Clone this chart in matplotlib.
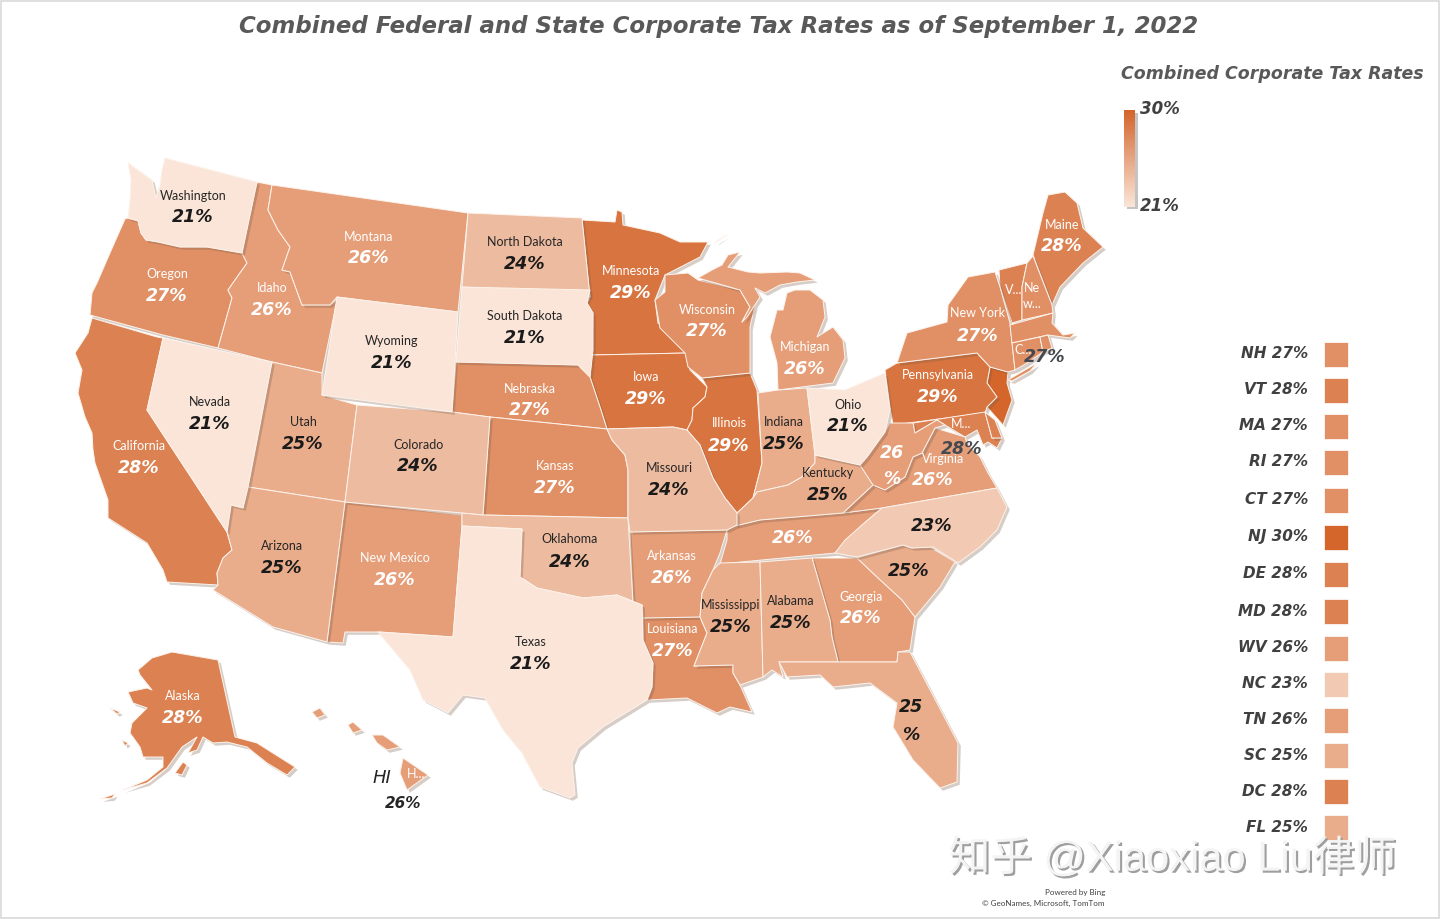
import numpy as np
import matplotlib
matplotlib.use("Agg")
import matplotlib.pyplot as plt
import matplotlib.patheffects as pe
from matplotlib.colors import LinearSegmentedColormap, Normalize
from matplotlib.patches import Polygon, Rectangle

# combined corporate tax rate per state (percent)
rates = {
    "WA": 21, "OR": 27, "CA": 28, "NV": 21, "ID": 26, "MT": 26, "WY": 21, "UT": 25, "AZ": 25,
    "CO": 24, "NM": 26, "ND": 24, "SD": 21, "NE": 27, "KS": 27, "OK": 24, "TX": 21, "MN": 29,
    "IA": 29, "MO": 24, "AR": 26, "LA": 27, "WI": 27, "IL": 29, "MI": 26, "IN": 25, "OH": 21,
    "KY": 25, "TN": 26, "MS": 25, "AL": 25, "GA": 26, "FL": 25, "SC": 25, "NC": 23, "VA": 26,
    "WV": 26, "PA": 29, "NY": 27, "ME": 28, "VT": 28, "NH": 27, "MA": 27, "RI": 27, "CT": 27,
    "NJ": 30, "DE": 28, "MD": 28, "AK": 28, "HI": 26,
}

# right hand list of the small states
side_codes = ["NH", "VT", "MA", "RI", "CT", "NJ", "DE", "MD", "WV", "NC", "TN", "SC", "DC", "FL"]
side_rates = [27, 28, 27, 27, 27, 30, 28, 28, 26, 23, 26, 25, 28, 25]

# state outlines, in picture pixels
outlines = {
    "WA": [[(128,163),(131,180),(130,200),(128,218),(138,221),(141,233),(146,240),(158,242),(180,247),(207,247),(242,253),(257,182),(165,158),(162,170),(160,185),(156,198),(152,180)]],
    "OR": [[(125,219),(128,218),(138,221),(141,233),(146,240),(158,242),(180,247),(207,247),(242,253),(247,263),(228,290),(232,298),(218,348),(163,335),(90,315),(92,293),(97,283),(110,253)]],
    "CA": [[(92,318),(157,337),(163,338),(147,410),(227,532),(232,550),(223,558),(217,573),(218,585),(167,582),(163,570),(147,543),(108,518),(108,500),(95,463),(93,450),(92,433),(85,417),(78,393),(82,370),(75,353),(88,333)]],
    "NV": [[(163,338),(272,362),(248,487),(243,508),(231,505),(227,532),(147,410)]],
    "ID": [[(257,182),(272,185),(268,210),(278,230),(290,247),(282,270),(290,272),(302,305),(330,305),(337,300),(322,373),(272,362),(218,348),(232,298),(228,290),(247,263),(242,253)]],
    "MT": [[(272,185),(468,213),(458,312),(337,297),(330,305),(302,305),(290,272),(282,270),(290,247),(278,230),(268,210)]],
    "WY": [[(337,297),(458,312),(452,412),(322,395)]],
    "UT": [[(272,362),(322,373),(322,395),(357,405),(345,502),(248,487)]],
    "AZ": [[(248,487),(345,502),(327,642),(273,627),(213,590),(218,585),(217,573),(223,558),(232,550),(227,532),(231,505),(243,508)]],
    "CO": [[(357,405),(452,412),(490,417),(483,515),(345,502)]],
    "NM": [[(345,502),(462,515),(462,526),(453,637),(380,632),(345,632),(343,643),(327,642)]],
    "ND": [[(468,213),(582,218),(590,297),(462,287)]],
    "SD": [[(462,287),(590,290),(587,303),(593,313),(593,350),(590,377),(578,365),(456,362)]],
    "NE": [[(456,362),(578,365),(590,377),(600,407),(607,429),(490,417),(452,412)]],
    "KS": [[(490,417),(607,429),(612,440),(625,455),(628,470),(628,518),(483,515)]],
    "OK": [[(462,513),(483,515),(628,518),(633,603),(642,605),(617,595),(583,598),(560,593),(537,588),(520,577),(522,529),(462,526)]],
    "TX": [[(462,526),(522,529),(520,577),(537,588),(560,593),(583,598),(617,595),(642,605),(643,640),(653,663),(652,687),(647,700),(603,727),(578,748),(572,763),(575,795),(570,798),(540,787),(522,753),(503,730),(485,698),(463,695),(448,713),(423,700),(410,670),(378,632),(453,637)]],
    "MN": [[(582,220),(615,222),(617,210),(622,212),(623,225),(660,233),(680,242),(708,242),(700,257),(665,275),(655,300),(658,323),(683,343),(687,353),(592,355),(593,313),(587,303),(590,297)]],
    "IA": [[(592,355),(687,353),(690,370),(707,387),(705,397),(693,408),(692,420),(687,430),(673,427),(607,429),(600,407),(590,377)]],
    "MO": [[(607,429),(673,427),(687,430),(700,445),(713,478),(725,498),(737,513),(737,525),(727,530),(630,532),(628,518),(628,470),(625,455),(612,440)]],
    "AR": [[(630,532),(727,530),(720,553),(713,570),(702,593),(700,617),(643,618),(642,605),(633,603)]],
    "LA": [[(643,618),(700,617),(707,633),(694,666),(733,665),(733,673),(740,685),(752,712),(730,707),(717,713),(687,698),(647,700),(652,687),(653,663),(643,640)]],
    "WI": [[(665,275),(688,273),(698,280),(740,290),(750,307),(742,322),(755,305),(750,327),(750,373),(702,378),(688,367),(685,353),(660,328),(655,300),(665,292)]],
    "IL": [[(702,378),(750,373),(757,390),(762,463),(753,498),(737,513),(725,498),(713,478),(700,445),(687,430),(692,420),(693,408),(705,397),(707,387)]],
    "MI": [[(698,278),(712,270),(722,265),(728,255),(740,252),(728,267),(748,272),(760,273),(787,272),(800,273),(815,280),(797,282),(780,285),(765,293),(755,288),(760,297),(747,317),(742,322),(750,307),(740,290)],
           [(795,290),(810,290),(823,300),(825,317),(817,337),(833,327),(843,340),(845,358),(833,383),(778,390),(777,363),(770,337),(777,310),(783,310),(787,293)],
           [(715,243),(727,235),(717,241)]],
    "IN": [[(758,393),(778,390),(807,388),(815,455),(815,463),(802,477),(788,485),(757,492),(753,498),(762,463)]],
    "OH": [[(807,388),(845,390),(885,373),(890,410),(885,432),(867,457),(860,465),(837,460),(815,455)]],
    "KY": [[(815,455),(837,460),(860,465),(873,485),(843,513),(760,520),(735,526),(737,513),(753,498),(757,492),(788,485),(802,477),(815,463)]],
    "TN": [[(735,526),(760,520),(843,513),(882,508),(862,525),(835,553),(720,564),(727,540),(727,530)]],
    "MS": [[(720,563),(760,562),(763,677),(740,685),(733,673),(733,665),(694,666),(707,633),(700,617),(702,593),(713,570)]],
    "AL": [[(760,562),(812,558),(830,620),(832,637),(838,662),(779,662),(783,677),(772,670),(763,677)]],
    "GA": [[(812,558),(857,558),(877,577),(902,600),(915,617),(910,650),(898,652),(897,662),(838,662),(832,637),(830,620)]],
    "FL": [[(779,662),(838,662),(897,662),(898,652),(910,652),(937,703),(958,743),(957,782),(940,788),(913,760),(893,727),(897,703),(870,683),(833,687),(820,675),(787,677)]],
    "SC": [[(857,558),(903,545),(910,548),(930,547),(955,562),(940,587),(915,617),(902,600),(877,577)]],
    "NC": [[(882,508),(997,488),(1007,507),(997,530),(980,547),(958,563),(933,547),(912,548),(903,545),(857,557),(835,553),(845,540),(862,525)]],
    "VA": [[(843,513),(873,485),(885,490),(905,477),(913,457),(922,453),(935,428),(965,437),(967,443),(980,457),(988,473),(997,488),(882,508)]],
    "WV": [[(860,465),(867,457),(885,432),(890,423),(913,423),(915,433),(937,420),(945,425),(935,428),(922,453),(913,457),(905,477),(885,490),(873,485)]],
    "MD": [[(913,423),(985,412),(992,438),(1002,438),(997,448),(988,442),(983,445),(977,430),(965,437),(945,425),(937,420),(915,433)]],
    "DE": [[(985,412),(995,420),(1002,438),(992,438)]],
    "PA": [[(885,370),(897,363),(977,353),(990,367),(987,383),(997,397),(987,407),(985,413),(893,425),(890,407)]],
    "NJ": [[(990,367),(1008,372),(1007,383),(1012,400),(1003,425),(987,407),(997,397),(987,383)]],
    "NY": [[(897,363),(907,333),(947,322),(948,305),(968,277),(995,272),(1000,287),(1010,323),(1015,370),(1008,372),(990,367),(977,353)],
           [(1008,380),(1037,363),(1030,371),(1012,381)]],
    "VT": [[(999,270),(1027,263),(1022,287),(1022,320),(1012,323),(1000,287)]],
    "NH": [[(1027,263),(1033,256),(1052,305),(1053,313),(1022,320),(1022,287)]],
    "ME": [[(1033,255),(1043,213),(1048,195),(1065,192),(1077,203),(1083,228),(1103,247),(1083,263),(1060,287),(1052,305)]],
    "MA": [[(1010,325),(1053,313),(1052,323),(1063,335),(1075,333),(1070,338),(1048,335),(1012,343)]],
    "CT": [[(1012,343),(1040,337),(1043,352),(1027,363),(1015,370)]],
    "RI": [[(1040,337),(1048,335),(1052,348),(1043,352)]],
    "AK": [[(138,670),(152,658),(172,652),(218,660),(235,737),(257,743),(295,767),(287,775),(267,763),(247,747),(227,742),(213,743),(203,737),(197,750),(188,753),(197,737),(182,747),(167,768),(147,783),(123,790),(147,780),(163,767),(163,757),(143,757),(140,747),(130,733),(132,723),(147,708),(133,703),(128,692),(147,688),(152,690),(140,675)],
           [(175,773),(183,762),(187,765),(182,775)],
           [(100,799),(115,794),(112,798)],
           [(110,708),(120,712),(117,714)],
           [(122,740),(128,743),(125,746)]],
    "HI": [[(312,712),(320,708),(325,715),(317,718)],
           [(348,725),(353,722),(362,730),(353,733)],
           [(372,735),(383,735),(400,747),(387,750),(377,743)],
           [(403,758),(428,775),(407,790),(400,773)]],
}

# name label, rate label: (text, x, y, white?)
names = [
    ("Washington",193,196,0),("Oregon",167,274,1),("California",139,446,1),("Nevada",210,402,0),("Idaho",272,288,1),
    ("Montana",369,237,1),("Wyoming",392,341,0),("Utah",303,422,0),("Arizona",282,546,0),("Colorado",418,445,0),
    ("New Mexico",395,558,1),("North Dakota",525,242,0),("South Dakota",525,316,0),("Nebraska",530,389,1),
    ("Kansas",555,466,1),("Oklahoma",570,539,0),("Texas",531,642,0),("Minnesota",631,271,1),("Iowa",646,377,1),
    ("Missouri",669,468,0),("Arkansas",672,556,1),("Louisiana",673,629,1),("Wisconsin",707,310,1),("Illinois",729,423,1),
    ("Michigan",805,347,1),("Indiana",784,422,0),("Ohio",848,405,0),("Kentucky",828,473,0),("Mississippi",731,605,0),
    ("Alabama",791,601,0),("Georgia",861,597,1),("Virginia",943,459,1),("Pennsylvania",938,375,1),("New York",978,313,1),
    ("Maine",1062,225,1),("V...",1014,290,1),("Ne",1032,288,1),("w...",1032,304,1),("M...",961,424,1),("C...",1023,350,1),
    ("Alaska",183,696,1),("H...",416,774,1),
]
rate_labels = [
    ("21%",193,217,0),("27%",167,296,1),("28%",139,468,1),("21%",210,424,0),("26%",272,310,1),("26%",369,258,1),
    ("21%",392,363,0),("25%",303,444,0),("25%",282,568,0),("24%",418,466,0),("26%",395,580,1),("24%",525,264,0),
    ("21%",525,338,0),("27%",530,410,1),("27%",555,488,1),("24%",570,562,0),("21%",531,664,0),("29%",631,293,1),
    ("29%",646,399,1),("24%",669,490,0),("26%",672,578,1),("27%",673,651,1),("27%",707,331,1),("29%",729,446,1),
    ("26%",805,369,1),("25%",784,444,0),("21%",848,426,0),("25%",828,495,0),("26%",793,538,1),("25%",731,627,0),
    ("25%",791,623,0),("26%",861,618,1),("25",911,707,0),("%",911,735,0),("25%",909,571,0),("23%",932,526,0),
    ("26%",933,480,1),("26",892,453,1),("%",892,479,1),("29%",938,397,1),("27%",978,336,1),("28%",1062,246,1),
    ("28%",183,718,1),
]

cmap = LinearSegmentedColormap.from_list("tax", ["#FAE5D8", "#D4662C"])
norm = Normalize(21, 30)

fig = plt.figure(figsize=(14.4, 9.19), dpi=100)
ax = fig.add_axes([0, 0, 1, 1])
ax.set_xlim(0, 1440)
ax.set_ylim(919, 0)
ax.axis("off")

script = dict(family="DejaVu Sans", style="oblique", weight="bold")
shadow = [pe.SimplePatchShadow(offset=(2, -2), shadow_rgbFace="#7a5a48", alpha=0.3), pe.Normal()]

# lighter states sit on top, their shadow falls on the darker neighbours
for code in sorted(outlines, key=lambda c: -rates[c]):
    for part in outlines[code]:
        ax.add_patch(Polygon(part, closed=True, facecolor=cmap(norm(rates[code])), edgecolor="#FDF3EC",
                             linewidth=0.7, joinstyle="round", path_effects=shadow))

for txt, x, y, white in names:
    ax.text(x, y, txt, ha="center", va="center", family="Lato", fontsize=9,
            color="white" if white else "#262626")
for txt, x, y, white in rate_labels:
    ax.text(x, y, txt, ha="center", va="center", fontsize=12.5, color="white" if white else "#1a1a1a", **script)

ax.text(962, 449, "28%", ha="center", va="center", fontsize=12.5, color="#44494f", **script)
ax.text(1045, 357, "27%", ha="center", va="center", fontsize=12.5, color="#44494f", **script)
ax.text(382, 778, "HI", ha="center", va="center", fontsize=13, color="#262626", family="DejaVu Sans", style="oblique")
ax.text(403, 803, "26%", ha="center", va="center", fontsize=11, color="#262626", **script)

ax.text(719, 27, "Combined Federal and State Corporate Tax Rates as of September 1, 2022", ha="center", va="center",
        fontsize=16.5, color="#595959", **script)

# colour scale
ax.text(1272, 74, "Combined Corporate Tax Rates", ha="center", va="center", fontsize=12.5, color="#595959", **script)
ax.add_patch(Rectangle((1127, 113), 11, 96, facecolor="#8a8a8a", alpha=0.5, edgecolor="none"))
scale = np.linspace(30, 21, 64).reshape(-1, 1)
ax.imshow(scale, cmap=cmap, norm=norm, extent=(1124, 1135, 207, 110), aspect="auto", zorder=3)
ax.set_xlim(0, 1440)
ax.set_ylim(919, 0)
ax.text(1160, 109, "30%", ha="center", va="center", fontsize=12, color="#404040", **script)
ax.text(1160, 206, "21%", ha="center", va="center", fontsize=12, color="#404040", **script)

# side list
side_y = np.array([354, 390, 426, 462, 500, 537, 574, 611, 648, 684, 720, 755, 791, 827])
for code, val, y in zip(side_codes, side_rates, side_y):
    ax.add_patch(Rectangle((1324, y - 12.5), 24, 25, facecolor=cmap(norm(val)), edgecolor="white", linewidth=0.5))
    ax.text(1308, y, f"{code} {val}%", ha="right", va="center", fontsize=11, color="#404040", **script)

# watermark and credits
ax.text(1172, 859, "知乎 @Xiaoxiao Liu律师", ha="center", va="center", fontsize=30, color="#f4f4f4",
        family=["Liberation Sans", "Noto Sans CJK SC"],
        path_effects=[pe.SimplePatchShadow(offset=(1.5, -1.5), shadow_rgbFace="#9a9a9a", alpha=0.95), pe.Normal()])
ax.text(1105, 892, "Powered by Bing", ha="right", va="center", family="Lato", fontsize=5.8, color="#404040")
ax.text(1105, 903, "© GeoNames, Microsoft, TomTom", ha="right", va="center", family="Lato", fontsize=5.8, color="#404040")

ax.add_patch(Rectangle((0.5, 0.5), 1438, 917, fill=False, edgecolor="#d9d9d9", linewidth=1.2))

fig.savefig("out.png", dpi=100)
